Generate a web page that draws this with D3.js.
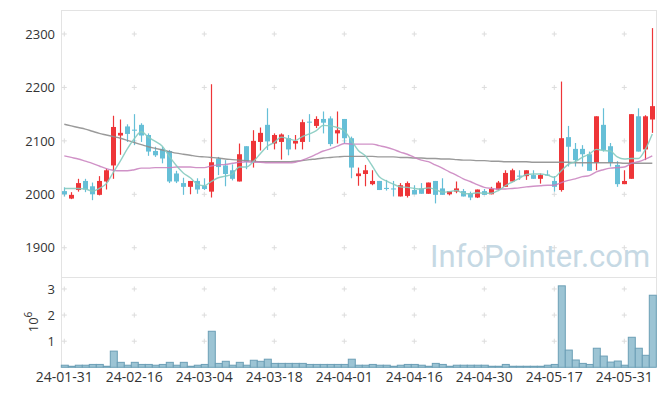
<!DOCTYPE html>
<html><head><meta charset="utf-8">
<script src="https://cdn.jsdelivr.net/npm/d3@7"></script>
<style>body{margin:0;background:#fff}svg{display:block}text{font-family:"Open Sans",sans-serif}</style>
</head><body>
<script>
const dates = ["24-01-31","24-02-01","24-02-02","24-02-05","24-02-06","24-02-07","24-02-08","24-02-13","24-02-14","24-02-15","24-02-16",
"24-02-19","24-02-20","24-02-21","24-02-22","24-02-23","24-02-26","24-02-27","24-02-28","24-02-29","24-03-04",
"24-03-05","24-03-06","24-03-07","24-03-08","24-03-11","24-03-12","24-03-13","24-03-14","24-03-15","24-03-18",
"24-03-19","24-03-20","24-03-21","24-03-22","24-03-25","24-03-26","24-03-27","24-03-28","24-03-29","24-04-01",
"24-04-02","24-04-03","24-04-04","24-04-05","24-04-08","24-04-09","24-04-11","24-04-12","24-04-15","24-04-16",
"24-04-17","24-04-18","24-04-19","24-04-22","24-04-23","24-04-24","24-04-25","24-04-26","24-04-29","24-04-30",
"24-05-02","24-05-03","24-05-07","24-05-08","24-05-09","24-05-10","24-05-13","24-05-14","24-05-16","24-05-17",
"24-05-20","24-05-21","24-05-22","24-05-23","24-05-24","24-05-27","24-05-28","24-05-29","24-05-30","24-05-31",
"24-06-03","24-06-04","24-06-05","24-06-07"];
const open  = [2006,1992,2008,2025,2015,1999,2024,2054,2110,2127,2121,2130,2111,2081,2085,2081,2039,2021,2014,2025,2016,
2005,2067,2054,2045,2024,2090,2060,2098,2130,2095,2098,2105,2095,2098,2136,2128,2141,2142,2114,2141,
2105,2034,2038,2019,2025,2012,2011,1996,1997,2008,2011,2001,2025,2011,2000,2005,2006,2002,1994,2006,
2000,2009,2014,2024,2035,2034,2036,2029,2037,2025,2008,2107,2085,2085,2075,2059,2130,2090,2055,2019,
2029,2146,2084,2140];
const high  = [2013,2004,2029,2029,2022,2034,2048,2147,2140,2131,2150,2133,2114,2089,2089,2083,2044,2031,2025,2030,2030,
2206,2070,2064,2056,2095,2090,2120,2125,2161,2114,2114,2111,2111,2140,2150,2146,2155,2146,2155,2141,
2108,2050,2055,2045,2025,2027,2025,2021,2024,2017,2021,2022,2025,2030,2006,2024,2010,2005,2009,2010,
2014,2025,2045,2048,2045,2045,2045,2039,2045,2034,2211,2128,2096,2092,2080,2146,2161,2096,2062,2045,
2150,2161,2148,2311];
const low   = [1996,1991,2005,2004,1989,1998,2009,2029,2074,2098,2092,2098,2072,2070,2058,2021,2021,1999,2000,2001,2008,
1994,2036,2015,2026,2024,2047,2050,2082,2083,2084,2065,2073,2084,2084,2098,2124,2114,2090,2095,2095,
2030,2016,2015,2017,2008,2007,1996,1996,1994,2000,2001,2001,1983,1999,1998,2002,1996,1989,1993,1999,
2000,2008,2014,2024,2027,2027,2029,2020,2035,2005,2005,2052,2052,2052,2044,2045,2080,2052,2014,2019,
2029,2080,2064,2115];
const close = [2000,1999,2021,2009,2000,2025,2045,2126,2115,2113,2119,2110,2080,2073,2067,2024,2024,2014,2025,2009,2010,
2060,2051,2038,2029,2075,2061,2100,2115,2099,2111,2112,2084,2100,2135,2134,2141,2134,2094,2120,2105,
2050,2039,2045,2025,2008,2010,2009,2017,2021,2000,2001,2022,1999,1999,2006,2011,1996,1994,2009,1999,
2010,2022,2040,2045,2033,2045,2029,2036,2035,2014,2105,2089,2064,2075,2044,2146,2083,2059,2019,2025,
2150,2080,2146,2165];
const volume = [0.08,0.04,0.08,0.08,0.11,0.11,0.04,0.62,0.19,0.08,0.19,0.11,0.11,0.08,0.11,0.19,0.08,0.19,0.04,0.08,0.11,
1.38,0.15,0.23,0.08,0.19,0.08,0.27,0.23,0.31,0.15,0.15,0.15,0.15,0.15,0.11,0.11,0.11,0.11,0.11,0.11,
0.31,0.08,0.08,0.11,0.08,0.08,0.04,0.08,0.11,0.11,0.08,0.04,0.15,0.11,0.04,0.08,0.08,0.08,0.08,0.08,
0.04,0.04,0.11,0.04,0.04,0.04,0.04,0.04,0.08,0.11,3.12,0.66,0.28,0.15,0.11,0.73,0.43,0.20,0.24,0.08,
1.15,0.73,0.46,2.76];
const ma5 = [2011,2011,2011,2010,2006,2011,2020,2041,2062,2085,2104,2117,2107,2099,2090,2071,2054,2040,2031,2019,2016,
2024,2031,2034,2038,2051,2051,2061,2076,2090,2097,2107,2104,2101,2108,2113,2119,2129,2128,2125,2119,
2101,2082,2072,2053,2033,2025,2019,2014,2013,2011,2010,2012,2009,2004,2005,2007,2002,2001,2003,2002,
2002,2007,2016,2023,2030,2037,2038,2038,2036,2032,2044,2056,2061,2069,2075,2084,2082,2081,2070,2066,
2067,2067,2084,2113];
const ma20 = [2072,2069,2066,2062,2058,2053,2048,2045,2044,2044,2046,2049,2049,2050,2050,2050,2051,2051,2051,2050,2050,
2053,2055,2056,2058,2060,2061,2060,2060,2059,2059,2059,2059,2060,2064,2069,2075,2081,2085,2090,2095,
2094,2094,2094,2094,2091,2088,2084,2079,2075,2069,2064,2061,2055,2049,2042,2036,2029,2024,2018,2013,
2011,2010,2010,2011,2012,2014,2015,2016,2017,2017,2022,2026,2029,2033,2035,2042,2046,2049,2050,2051,
2058,2061,2066,2072];
const ma60 = [2131,2128,2125,2122,2118,2114,2111,2108,2105,2101,2097,2093,2089,2086,2083,2080,2077,2075,2073,2071,2070,
2069,2068,2066,2065,2064,2063,2062,2061,2061,2061,2061,2061,2062,2063,2065,2066,2068,2069,2070,2071,
2071,2071,2071,2071,2070,2070,2070,2069,2069,2068,2068,2067,2067,2066,2066,2065,2064,2064,2063,2063,
2062,2062,2061,2061,2061,2061,2060,2060,2060,2060,2060,2060,2059,2059,2059,2059,2059,2059,2059,2058,
2058,2058,2058,2058];
const priceTicks = [1900,2000,2100,2200,2300];
const volTicks = [1,2,3];
const xTickLabels = ["24-01-31","24-02-16","24-03-04","24-03-18","24-04-01","24-04-16","24-04-30","24-05-17","24-05-31"];

const W=665,H=396;
const L=61.7,R=656.7,T=10,MID=277.3,B=367.3;
const svg=d3.select("body").append("svg").attr("width",W).attr("height",H);
const x=d3.scalePoint().domain(dates).range([64.3,652.3]);
const step=x.step();
const y=d3.scaleLinear().domain([1844.7,2344.9]).range([MID,T]);
const yv=d3.scaleLinear().domain([0,3.447]).range([B,MID]);

// frame
const frame=svg.append("g").attr("stroke","#e3e3e3").attr("fill","none").attr("shape-rendering","crispEdges");
frame.append("line").attr("x1",L).attr("x2",R).attr("y1",T).attr("y2",T);
frame.append("line").attr("x1",L).attr("x2",R).attr("y1",MID).attr("y2",MID);
frame.append("line").attr("x1",L).attr("x2",L).attr("y1",T).attr("y2",B);
frame.append("line").attr("x1",R).attr("x2",R).attr("y1",T).attr("y2",B);

// grid crosses
const cross=svg.append("g").attr("stroke","#dcdcdc").attr("stroke-width",1);
function plus(cx,cy){cross.append("line").attr("x1",cx-2.5).attr("x2",cx+2.5).attr("y1",cy).attr("y2",cy);
 cross.append("line").attr("x1",cx).attr("x2",cx).attr("y1",cy-2.5).attr("y2",cy+2.5);}
xTickLabels.forEach(d=>{priceTicks.forEach(p=>plus(x(d),y(p)));volTicks.forEach(v=>plus(x(d),yv(v)));});

// watermark
svg.append("text").attr("x",430).attr("y",267).attr("font-size",31).attr("fill","#c6d9e4")
  .style("font-family","Roboto, sans-serif").text("InfoPointer.com");

// volume bars
svg.append("g").selectAll("rect").data(dates).join("rect")
  .attr("x",d=>x(d)-step/2+0.5).attr("width",step).attr("y",(d,i)=>yv(volume[i])).attr("height",(d,i)=>yv(0)-yv(volume[i]))
  .attr("fill","#9cc4d4").attr("stroke","#6c9fb6").attr("stroke-width",1);

// candles
const up=i=>close[i]>=open[i];
const RED="#ee3538",BLUE="#66bfd7";
const cg=svg.append("g");
cg.selectAll("line").data(dates).join("line")
  .attr("x1",d=>Math.round(x(d))+0.5).attr("x2",d=>Math.round(x(d))+0.5)
  .attr("y1",(d,i)=>y(high[i])).attr("y2",(d,i)=>y(low[i]))
  .attr("stroke",(d,i)=>up(i)?RED:BLUE).attr("stroke-width",1.2);
cg.selectAll("rect").data(dates).join("rect")
  .attr("x",d=>Math.round(x(d))+0.5-2.5).attr("width",5)
  .attr("y",(d,i)=>y(Math.max(open[i],close[i])))
  .attr("height",(d,i)=>Math.max(1,Math.abs(y(open[i])-y(close[i]))))
  .attr("fill",(d,i)=>up(i)?RED:BLUE);

// MA lines
const line=arr=>d3.line().x((d,i)=>x(dates[i])).y(d=>y(d)).curve(d3.curveMonotoneX)(arr);
svg.append("path").attr("d",line(ma60)).attr("fill","none").attr("stroke","#8f8f8f").attr("stroke-width",1.4).attr("opacity",0.9);
svg.append("path").attr("d",line(ma20)).attr("fill","none").attr("stroke","#c87fbd").attr("stroke-width",1.4).attr("opacity",0.85);
svg.append("path").attr("d",line(ma5)).attr("fill","none").attr("stroke","#86cbc0").attr("stroke-width",1.4).attr("opacity",0.9);

// axes labels
const lab=svg.append("g").attr("font-size",13).attr("fill","#333");
priceTicks.forEach(p=>lab.append("text").attr("x",55).attr("y",y(p)).attr("dy","0.36em").attr("text-anchor","end").text(p));
volTicks.forEach(v=>lab.append("text").attr("x",55).attr("y",yv(v)).attr("dy","0.36em").attr("text-anchor","end").text(v));
xTickLabels.forEach(d=>lab.append("text").attr("x",x(d)).attr("y",382).attr("font-size",14).attr("text-anchor","middle").text(d));
const vt=lab.append("text").attr("transform","translate(38,322) rotate(-90)").attr("text-anchor","middle");
vt.append("tspan").text("10");
vt.append("tspan").attr("font-size",10).attr("dy",-6).text("6");
</script>
</body></html>
